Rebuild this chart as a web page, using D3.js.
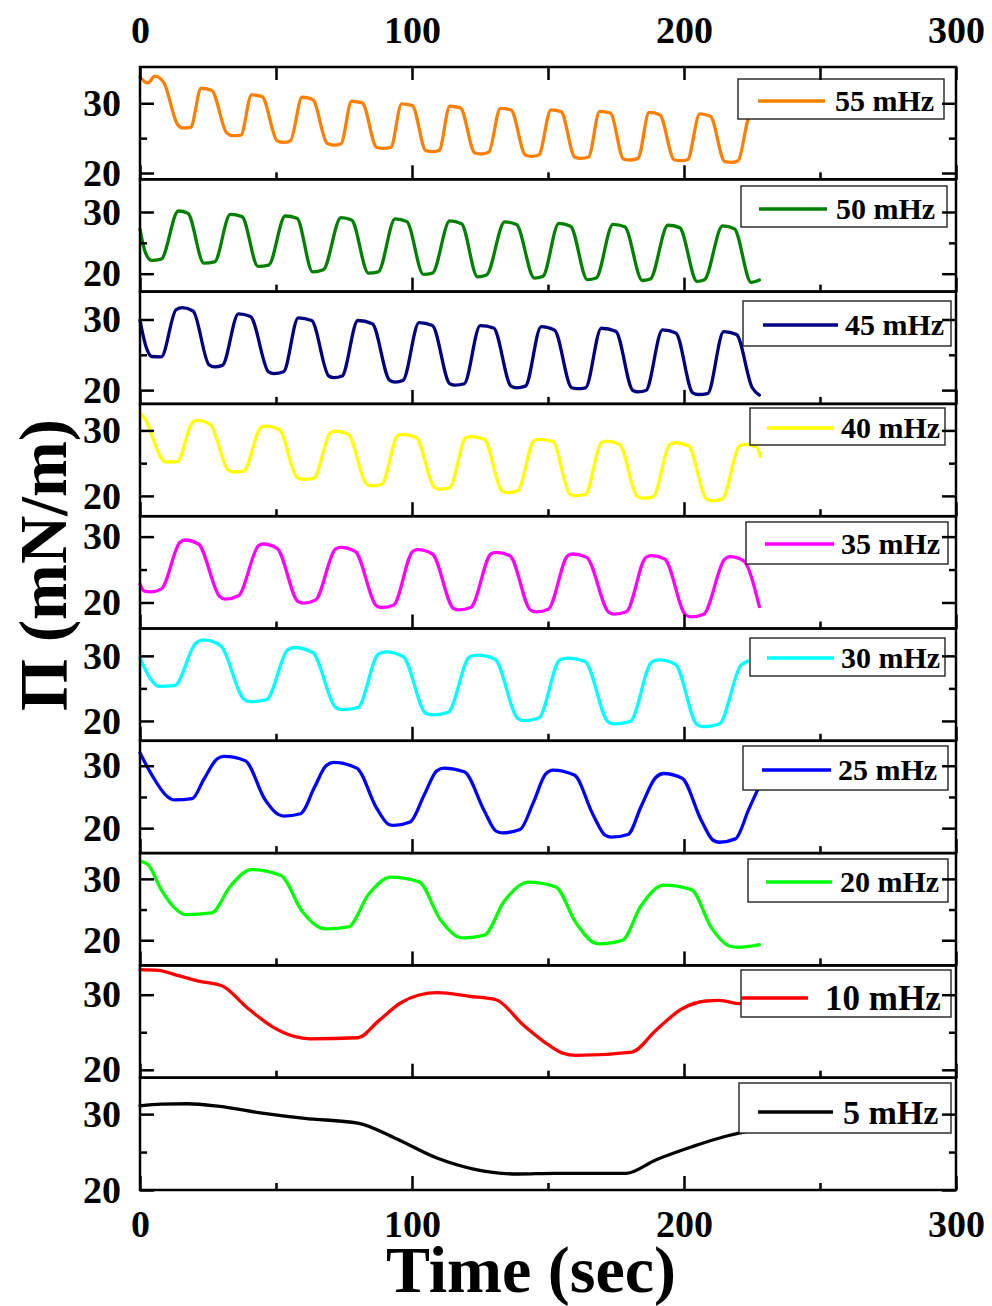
<!DOCTYPE html>
<html><head><meta charset="utf-8">
<script src="https://cdn.jsdelivr.net/npm/d3@7"></script>
<style>body{margin:0;background:#fff}svg{display:block}</style>
</head><body>
<svg id="c" width="992" height="1306"></svg>
<script>
// ---------------- DATA ----------------
const freqLabels = ["55 mHz","50 mHz","45 mHz","40 mHz","35 mHz","30 mHz","25 mHz","20 mHz","10 mHz","5 mHz"];
const lineColors = ["#FF8000","#008000","#000080","#FFFF00","#FF00FF","#00FFFF","#0000FF","#00FF00","#FF0000","#000000"];
const xTicksMajor = [0,100,200,300];
const xTicksMinor = [50,150,250];
const yTicksMajor = [20,30];
const yTicksMinor = [25];
const yMin = [19.1,17.1,18.05,16.9,16.05,16.95,16.0,15.9,18.95,20.0];
const yMax = [35.2,35.3,33.95,34.05,33.1,34.2,34.0,34.2,33.9,34.8];

const time55=[0,2.9,5.5,8.8,13.7,15.6,18.6,22.5,26.4,31.9,34.2,37.1,41.0,44.9,50.4,52.8,55.3,59.6,63.5,68.8,71.3,73.9,77.8,81.7,87.0,89.5,92.2,96.2,100.1,105.1,107.5,110.0,113.9,117.8,123.1,125.5,128.2,132.5,136.4,141.7,144.0,146.6,151.1,154.8,159.9,162.2,164.9,169.0,172.9,177.8,180.4,183.1,187.2,191.1,196.4,198.8,201.3,205.8,209.7,215.0,217.5,219.9,223.8,226.7];
const pi55=[33.73,32.92,33.88,32.92,27.03,26.46,26.56,32.15,31.82,25.74,25.36,25.45,31.2,30.96,24.64,24.4,24.64,30.86,30.53,24.26,24.0,24.2,30.29,30.05,23.68,23.54,23.68,29.9,29.67,23.2,23.06,23.25,29.57,29.33,22.87,22.73,22.97,29.28,29.04,22.58,22.39,22.58,29.04,28.8,22.25,22.11,22.3,28.85,28.61,22.0,21.87,22.1,28.7,28.37,21.9,21.77,21.9,28.47,28.13,21.63,21.53,21.77,28.0,29.2];

const time50=[0,2.0,4.3,7.8,14.1,17.6,23.5,27.4,33.2,37.5,43.4,47.3,53.4,57.7,63.5,67.4,73.9,77.8,84.0,87.6,93.8,98.1,104.2,107.5,113.9,118.2,124.1,127.4,134.1,138.4,145.0,148.1,154.0,158.3,164.5,167.7,173.9,178.2,184.7,187.6,194.1,198.4,204.8,207.5,214.2,218.5,224.7,227.7];
const pi50=[27.2,23.4,22.15,22.37,30.16,29.8,21.7,21.9,29.6,29.25,21.2,21.4,29.35,28.98,20.3,20.65,29.1,28.7,20.1,20.3,28.9,28.44,19.9,20.1,28.55,28.1,19.5,19.8,28.4,27.96,19.3,19.57,28.17,27.7,19.03,19.3,28.0,27.6,18.9,19.14,27.85,27.47,18.76,19.03,27.74,27.3,18.6,18.98];

const time45=[0,2.3,4.3,7.8,13.3,15.6,19.5,25.4,27.4,30.3,36.2,40.6,47.3,49.2,52.8,58.2,63.1,69.4,71.3,74.3,80.1,85.4,91.8,93.8,96.7,102.6,107.5,113.9,115.9,119.2,125.1,130.0,136.4,138.4,141.7,147.5,152.4,158.7,160.6,163.8,169.6,174.9,181.2,183.1,186.0,192.1,197.0,203.2,205.2,208.7,214.6,219.3,225.1,227.7];
const pi45=[29.86,26.05,24.76,24.7,31.4,31.67,31.2,23.57,23.29,23.5,30.8,30.43,22.57,22.33,22.6,30.24,29.86,22.0,21.76,22.0,29.86,29.4,21.38,21.14,21.38,29.57,29.14,20.9,20.7,20.9,29.14,28.8,20.57,20.33,20.57,29.0,28.5,20.33,20.2,20.33,28.76,28.33,19.95,19.76,19.95,28.52,28.1,19.62,19.38,19.52,28.29,27.86,20.33,19.29];

const time40=[0,2.0,7.4,9.4,13.7,19.2,21.1,25.8,32.2,34.2,38.1,44.6,46.5,51.2,57.6,59.6,63.9,70.0,71.9,76.6,83.1,85.0,88.9,94.8,96.7,101.6,108.1,110.0,113.9,119.8,121.8,126.6,132.9,134.8,138.8,145.0,147.0,151.8,157.9,159.9,163.8,169.6,171.6,176.3,182.7,184.7,188.6,194.8,196.8,201.7,208.1,210.1,214.0,220.4,222.4,226.7,228.1];
const pi40=[32.69,31.68,26.1,25.18,25.23,31.17,31.52,30.91,24.06,23.65,23.8,30.5,30.66,30.15,22.9,22.54,22.69,29.64,29.9,29.4,21.88,21.52,21.78,29.24,29.39,28.88,21.37,21.02,21.27,28.88,29.04,28.63,20.86,20.5,20.76,28.48,28.63,28.27,20.36,20.0,20.25,28.12,28.38,27.87,20.0,19.64,19.85,27.87,28.12,27.61,19.59,19.24,19.5,27.6,27.87,27.46,26.1];

const time35=[0,1.6,3.9,7.8,14.7,16.6,21.5,29.3,31.3,36.2,43.6,45.3,50.4,58.2,60.2,64.5,71.9,73.9,79.1,87.0,88.9,93.2,100.3,102.2,107.5,115.3,117.3,121.6,129.0,130.9,136.0,143.6,145.6,150.1,157.3,159.3,164.2,172.4,174.3,178.8,186.0,188.0,192.9,200.7,202.7,207.2,215.0,216.9,221.8,227.7];
const pi35=[22.79,21.73,21.62,22.03,29.14,29.49,28.88,20.91,20.5,21.02,28.63,28.88,28.22,20.1,19.9,20.36,28.12,28.38,27.77,19.49,19.24,19.59,27.77,28.02,27.36,19.09,18.88,19.24,27.36,27.61,27.1,18.83,18.58,18.98,27.1,27.36,26.85,18.48,18.22,18.58,26.85,27.1,26.6,18.07,17.82,18.22,26.6,26.95,26.35,19.39];

const time30=[0,3.9,6.8,12.7,20.5,23.5,29.7,38.1,40.6,46.5,54.3,56.7,63.5,71.9,74.3,80.1,87.6,90.3,96.7,105.1,107.5,113.3,121.2,124.1,130.5,138.8,141.1,146.6,154.4,157.3,163.6,172.0,174.3,180.2,188.2,190.9,196.8,204.8,207.2,213.0,220.8,223.8];
const pi30=[29.64,26.43,25.31,25.41,31.94,32.45,31.53,23.37,22.96,23.27,30.92,31.28,30.51,22.09,21.73,22.04,30.26,30.61,29.9,21.17,20.92,21.33,29.85,30.1,29.49,20.41,20.05,20.46,29.39,29.64,29.13,19.9,19.54,19.9,29.08,29.39,28.72,19.44,19.13,19.54,28.47,29.23];

const time25=[0,4.9,9.8,12.7,19.2,23.5,28.3,30.9,38.7,45.9,50.8,52.8,59.0,64.1,68.4,71.3,79.7,86.9,91.5,93.4,99.3,104.6,109.1,111.8,119.2,126.6,130.9,133.3,139.7,144.6,149.1,151.8,159.7,166.5,171.0,173.3,179.4,184.3,189.6,192.5,199.3,206.2,210.7,213.0,218.9,223.8,227.7];
const pi25=[32.04,28.12,25.16,24.52,24.73,27.85,31.08,31.5,30.81,24.62,22.2,21.94,22.31,26.5,30.0,30.54,29.62,23.28,20.59,20.43,20.97,25.43,29.19,29.62,29.03,22.74,19.52,19.25,19.78,24.09,28.66,29.3,28.5,22.2,18.87,18.55,18.98,23.55,28.12,28.76,28.0,21.4,18.06,17.74,18.28,23.0,26.77];

const time20=[0,2.9,7.8,12.7,16.6,26.4,33.2,41.0,51.8,59.6,66.4,68.4,76.6,84.0,92.2,102.6,110.4,117.3,119.2,126.6,133.9,142.7,152.8,160.3,167.1,169.0,177.4,184.1,192.5,202.7,210.1,216.9,219.9,227.7];
const pi20=[32.88,32.34,28.26,25.27,24.18,24.46,28.8,31.52,30.54,24.73,22.01,21.85,22.17,27.45,30.27,29.51,23.37,20.49,20.38,20.82,26.36,29.46,28.7,22.83,19.57,19.4,20.0,25.54,28.97,28.26,22.01,19.02,18.86,19.29];

const time10=[0,6.8,13.7,21.5,30.3,39.1,48.9,56.7,62.5,80.1,87.9,95.8,102.6,109.4,121.2,130.9,140.7,150.5,155.4,160.3,180.8,189.6,199.3,208.1,213.0,220.8,227.7];
const pi10=[33.33,33.24,32.58,31.82,31.16,28.36,25.69,24.44,24.13,24.27,26.58,28.89,29.96,30.27,29.78,29.33,26.04,23.24,22.22,21.91,22.36,25.24,28.13,29.16,29.24,28.8,28.9];

const time5=[0,7.8,17.6,29.3,44.9,60.6,80.1,93.8,109.4,123.1,138.8,152.4,178.8,189.6,203.2,215.0,222.8,227.7];
const pi5=[31.1,31.32,31.37,31.01,30.13,29.43,28.81,26.83,24.19,22.73,22.11,22.2,22.2,23.96,25.73,27.05,27.7,28.0];

const seriesTimes=[time55,time50,time45,time40,time35,time30,time25,time20,time10,time5];
const seriesValues=[pi55,pi50,pi45,pi40,pi35,pi30,pi25,pi20,pi10,pi5];

// ---------------- LAYOUT ----------------
const W=992,H=1306;
const L=140,R=956,T=67,B=1190;
const N=10, PH=(B-T)/N;
const FONT="'Liberation Serif','Times New Roman',serif";
const TICKFS=38;
// legend boxes: [x1,x2,y1(rel to panel top),y2, lineX1,lineX2,lineY, textX, fontSize]
const legendLayout=[
 [738,944,12,52,758,825,34,835,30],
 [741,947,6.7,47.7,759,827,29.7,836,30],
 [743,951,9.4,54.4,763,838,33.4,845,30],
 [750,945,4.1,41.1,767,834,24.1,841,30],
 [746,948,5.8,47.8,765,834,27.8,841,30],
 [750,945,9.5,47.5,767,834,29.5,841,30],
 [743,948,5.2,49.2,762,831,29.2,838,30],
 [748,948,5.9,48.9,766,832,28.9,840,30],
 [741,951,4.6,51.6,741,808,32.6,825,35],
 [739,951,5.3,55.3,758,833,34.3,843,34]
];

const svg=d3.select("#c");
const x=d3.scaleLinear().domain([0,300]).range([L,R]);

for(let i=0;i<N;i++){
  const top=T+i*PH, bot=top+PH;
  const y=d3.scaleLinear().domain([yMin[i],yMax[i]]).range([bot,top]);
  const g=svg.append("g");
  const data=seriesTimes[i].map((t,k)=>[t,seriesValues[i][k]]);
  const line=d3.line().x(d=>x(d[0])).y(d=>y(d[1])).curve(d3.curveMonotoneX);
  g.append("path").datum(data).attr("d",line)
    .attr("fill","none").attr("stroke",lineColors[i]).attr("stroke-width",3.3)
    .attr("stroke-linejoin","round").attr("stroke-linecap","round");

  // legend
  const lg=legendLayout[i];
  g.append("rect").attr("x",lg[0]).attr("y",top+lg[2]).attr("width",lg[1]-lg[0]).attr("height",lg[3]-lg[2])
    .attr("fill","#fff").attr("stroke","#222").attr("stroke-width",1.4);
  g.append("line").attr("x1",lg[4]).attr("x2",lg[5]).attr("y1",top+lg[6]).attr("y2",top+lg[6])
    .attr("stroke",lineColors[i]).attr("stroke-width",3.5);
  g.append("text").attr("x",lg[7]).attr("y",top+lg[6]+lg[8]*0.34)
    .attr("font-family",FONT).attr("font-weight","bold").attr("font-size",lg[8]).text(freqLabels[i]);

  // axes (inward ticks)
  const styleAxis=a=>{a.select(".domain").remove();a.selectAll("line").attr("stroke","#000").attr("stroke-width",2.5);
    a.selectAll("text").attr("font-family",FONT).attr("font-weight","bold").attr("font-size",TICKFS).attr("fill","#000");};
  g.append("g").attr("transform",`translate(${L},0)`)
    .call(d3.axisLeft(y).tickValues(yTicksMajor).tickSize(-14).tickPadding(19).tickFormat(d3.format("d"))).call(styleAxis);
  g.append("g").attr("transform",`translate(${L},0)`)
    .call(d3.axisLeft(y).tickValues(yTicksMinor).tickSize(-7).tickFormat("")).call(styleAxis);
  g.append("g").attr("transform",`translate(${R},0)`)
    .call(d3.axisRight(y).tickValues(yTicksMajor).tickSize(-14).tickFormat("")).call(styleAxis);
  g.append("g").attr("transform",`translate(${R},0)`)
    .call(d3.axisRight(y).tickValues(yTicksMinor).tickSize(-7).tickFormat("")).call(styleAxis);
  const isLast=(i===N-1);
  g.append("g").attr("transform",`translate(0,${bot})`)
    .call(d3.axisBottom(x).tickValues(xTicksMajor).tickSize(-14).tickPadding(20.5).tickFormat(isLast?d3.format("d"):"")).call(styleAxis);
  g.append("g").attr("transform",`translate(0,${bot})`)
    .call(d3.axisBottom(x).tickValues(xTicksMinor).tickSize(-7).tickFormat("")).call(styleAxis);
  if(i===0){
    g.append("g").attr("transform",`translate(0,${top})`)
      .call(d3.axisTop(x).tickValues(xTicksMajor.concat(xTicksMinor)).tickSize(-13).tickPadding(24)
        .tickFormat(d=>xTicksMajor.includes(d)?d3.format("d")(d):"")).call(styleAxis);
  }
  // frame
  g.append("rect").attr("x",L).attr("y",top).attr("width",R-L).attr("height",PH)
    .attr("fill","none").attr("stroke","#000").attr("stroke-width",2.5);
}

// axis titles
svg.append("text").attr("x",531).attr("y",1292).attr("text-anchor","middle")
  .attr("font-family",FONT).attr("font-weight","bold").attr("font-size",66).text("Time (sec)");
svg.append("text").attr("transform","translate(66,565) rotate(-90)").attr("text-anchor","middle")
  .attr("font-family",FONT).attr("font-weight","bold").attr("font-size",67).text("Π (mN/m)");
</script>
</body></html>
